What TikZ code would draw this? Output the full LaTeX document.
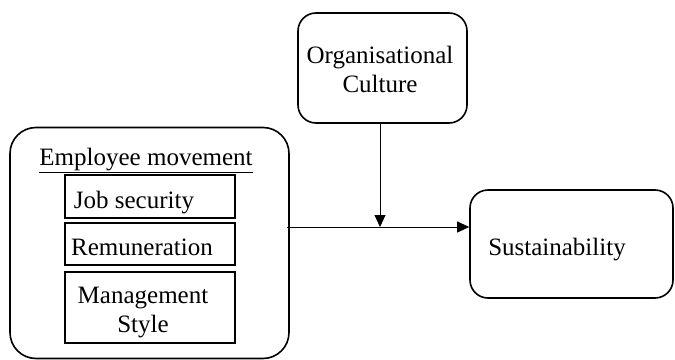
\documentclass[tikz,border=0pt]{standalone}
\usepackage{fontspec}
\setmainfont{Liberation Serif}
\usetikzlibrary{arrows.meta}
\begin{document}
\begin{tikzpicture}[x=1pt,y=-1pt,
  outerbox/.style={draw, line width=1.6pt, rounded corners=#1},
  innerbox/.style={draw, line width=1.6pt},
  lbl/.style={anchor=base, inner sep=0pt, font=\fontsize{25}{29}\selectfont},
  conn/.style={line width=0.9pt, -{Triangle[length=12pt,width=11pt]}}]
\useasboundingbox (0,0) rectangle (675,359);
% boxes
\node[outerbox=26pt, minimum width=279pt, minimum height=231pt, inner sep=0pt] (emp) at (149.5,243) {};
\node[outerbox=18pt, minimum width=169pt, minimum height=110pt, inner sep=0pt] (org) at (382.5,68) {};
\node[outerbox=18pt, minimum width=203pt, minimum height=108pt, inner sep=0pt] (sus) at (571.5,244) {};
\node[innerbox, minimum width=170pt, minimum height=43pt, inner sep=0pt] (job) at (150,196.5) {};
\node[innerbox, minimum width=170pt, minimum height=42pt, inner sep=0pt] (rem) at (150,244) {};
\node[innerbox, minimum width=170pt, minimum height=71pt, inner sep=0pt] (man) at (150,307.5) {};
% texts
\node[lbl] (tEmp) at (146,165) {\underline{Employee movement}};
\node[lbl] (tJob) at (134,208) {Job security};
\node[lbl] (tRem) at (142,255) {Remuneration};
\node[lbl] (tMan1) at (143,303) {Management};
\node[lbl] (tMan2) at (143,332) {Style};
\node[lbl] (tOrg1) at (380,63) {Organisational};
\node[lbl] (tOrg2) at (380,92) {Culture};
\node[lbl] (tSus) at (557,255) {Sustainability};
% connectors
\coordinate (start) at (287,227);
\coordinate (join) at (380,227);
\draw[conn] (start) -- (start -| sus.west);
\draw[conn] (org.south -| join) -- (join);
\end{tikzpicture}
\end{document}
